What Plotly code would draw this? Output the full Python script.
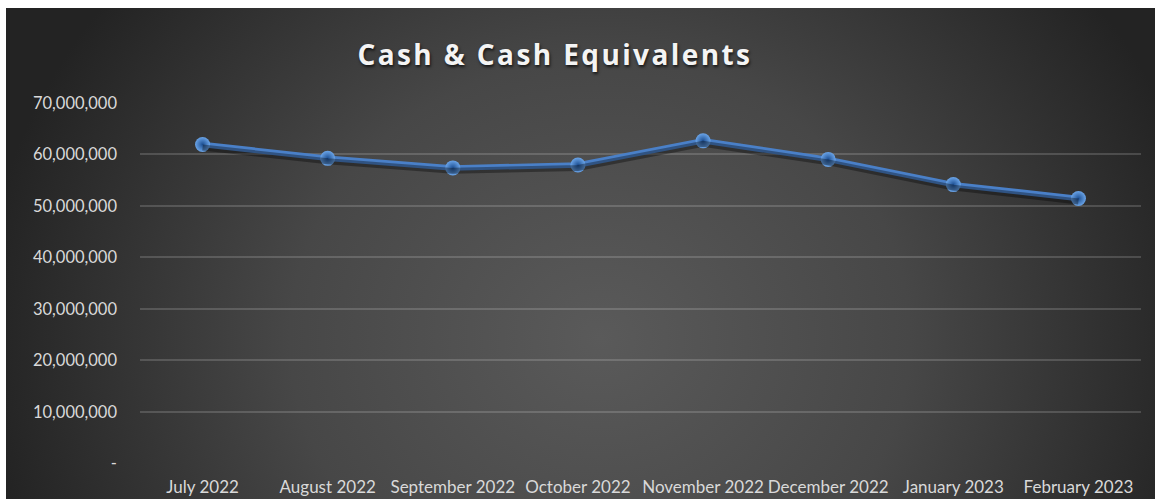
import base64
import plotly.graph_objects as go

# Monthly cash & cash equivalents balance
months = ["July 2022", "August 2022", "September 2022", "October 2022",
          "November 2022", "December 2022", "January 2023", "February 2023"]
cash = [61900000, 59200000, 57350000, 57900000,
        62600000, 59000000, 54100000, 51400000]

y_tick_values = [0, 10000000, 20000000, 30000000, 40000000, 50000000, 60000000, 70000000]
y_tick_labels = ["-", "10,000,000", "20,000,000", "30,000,000",
                 "40,000,000", "50,000,000", "60,000,000", "70,000,000"]

W, H = 1155, 499
ML, MR, MT, MB = 140, 14, 102, 35
plot_w = W - ML - MR
plot_h = H - MT - MB

# Dark radial-gradient chart area, drawn as an SVG background image
bx0, by0 = 6, 8
bw, bh = W - bx0, H - by0
svg = f"""<svg xmlns='http://www.w3.org/2000/svg' width='{bw}' height='{bh}' viewBox='0 0 {bw} {bh}' preserveAspectRatio='none'>
<defs><radialGradient id='g' gradientUnits='userSpaceOnUse' cx='594' cy='330' r='620'
 gradientTransform='translate(594 330) scale(1 0.9) translate(-594 -330)'>
<stop offset='0' stop-color='#5a5a5a'/><stop offset='0.5' stop-color='#474747'/>
<stop offset='1' stop-color='#232323'/></radialGradient></defs>
<rect width='{bw}' height='{bh}' fill='url(#g)'/></svg>"""
bg_src = "data:image/svg+xml;base64," + base64.b64encode(svg.encode()).decode()

def px_to_paper_x(px):
    return (px - ML) / plot_w

def px_to_paper_y(py):
    return (H - MB - py) / plot_h

y_max = 70000000
y_pad = y_max * 0.002  # keeps the gridlines at 0 and 70M inside the plot
shadow_px = 3
shadow_shift = shadow_px * y_max / plot_h

fig = go.Figure()

# soft drop shadow under the line
fig.add_trace(go.Scatter(
    x=months, y=cash, mode="lines", yaxis="y2",
    line=dict(color="rgba(0,0,0,0.35)", width=6),
    hoverinfo="skip", showlegend=False,
))

fig.add_trace(go.Scatter(
    x=months, y=cash, mode="lines+markers",
    line=dict(color="#4a80c8", width=5.5),
    marker=dict(size=15, color="#6aa4e8",
                gradient=dict(type="radial", color="#1d4f92"),
                line=dict(width=0)),
    showlegend=False,
))

fig.update_layout(
    width=W, height=H,
    margin=dict(l=ML, r=MR, t=MT, b=MB, pad=0),
    paper_bgcolor="white",
    plot_bgcolor="rgba(0,0,0,0)",
    images=[dict(
        source=bg_src, xref="paper", yref="paper",
        x=px_to_paper_x(bx0), y=px_to_paper_y(by0),
        sizex=bw / plot_w, sizey=bh / plot_h,
        xanchor="left", yanchor="top", sizing="stretch", layer="below",
    )],
    xaxis=dict(
        type="category", range=[-0.5, len(months) - 0.5],
        showgrid=False, zeroline=False, showline=False,
        tickfont=dict(family="Lato", size=17, color="#d9d9d9"),
        ticks="", ticklabelstandoff=11, tickangle=0, automargin=False,
    ),
    yaxis=dict(
        range=[-y_pad, y_max + y_pad], tickvals=y_tick_values, ticktext=y_tick_labels,
        showgrid=True, gridcolor="rgba(255,255,255,0.16)", gridwidth=1.5,
        zeroline=False, showline=False, ticks="",
        tickfont=dict(family="Lato", size=16.5, color="#d9d9d9"),
        ticklabelstandoff=22, automargin=False,
    ),
    yaxis2=dict(
        overlaying="y", range=[-y_pad + shadow_shift, y_max + y_pad + shadow_shift],
        visible=False,
    ),
    annotations=[dict(
        text="<b>Cash &amp; Cash Equivalents</b>",
        xref="paper", yref="paper",
        x=px_to_paper_x(555), y=px_to_paper_y(54),
        xanchor="center", yanchor="middle", showarrow=False,
        font=dict(family="Open Sans", size=28, color="#f4f4f4",
                  shadow="1px 2px 3px rgba(0,0,0,0.7)"),
    )],
)

# widen the title's letter spacing once the chart is drawn
post = """
document.querySelectorAll('.annotation-text').forEach(function (t) {
  t.style.letterSpacing = '2.4px';
});
"""

fig.write_html("out.html", post_script=post)
